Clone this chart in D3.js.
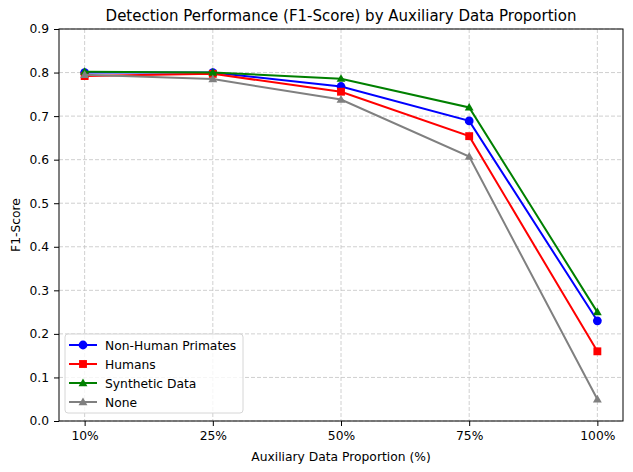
<!DOCTYPE html>
<html>
<head>
<meta charset="utf-8">
<script src="https://cdn.jsdelivr.net/npm/d3@7"></script>
<style>
  body { margin: 0; background: #fff; }
  text { font-family: "DejaVu Sans", sans-serif; fill: #000; }
</style>
</head>
<body>
<div id="chart-area"></div>
<script>
// chart data
const categories = ["10%", "25%", "50%", "75%", "100%"];
const nonHumanPrimates = [0.80, 0.80, 0.768, 0.689, 0.23];
const humans = [0.792, 0.797, 0.756, 0.654, 0.16];
const syntheticData = [0.802, 0.80, 0.786, 0.72, 0.25];
const noneAux = [0.795, 0.785, 0.738, 0.607, 0.05];
const yTicks = [0, 0.1, 0.2, 0.3, 0.4, 0.5, 0.6, 0.7, 0.8, 0.9];

const seriesList = [
  { name: "Non-Human Primates", values: nonHumanPrimates, color: "blue", marker: "circle" },
  { name: "Humans", values: humans, color: "red", marker: "square" },
  { name: "Synthetic Data", values: syntheticData, color: "green", marker: "triangle" },
  { name: "None", values: noneAux, color: "gray", marker: "triangle" }
];

const width = 633, height = 472;
const margin = { top: 29, right: 10, bottom: 51, left: 59 };
const innerW = width - margin.left - margin.right;
const innerH = height - margin.top - margin.bottom;
const fontSize = "12.3px";

const svg = d3.select("#chart-area").append("svg")
  .attr("width", width)
  .attr("height", height);

const g = svg.append("g")
  .attr("transform", `translate(${margin.left},${margin.top})`);

// categorical x with matplotlib-like 5% margins
const x = d3.scaleLinear()
  .domain([-0.2, categories.length - 1 + 0.2])
  .range([0, innerW]);
const y = d3.scaleLinear().domain([0, 0.9]).range([innerH, 0]);

// grid
g.append("g").selectAll("line")
  .data(yTicks)
  .enter().append("line")
  .attr("x1", 0).attr("x2", innerW)
  .attr("y1", d => y(d)).attr("y2", d => y(d))
  .attr("stroke", "#c4c4c4").attr("stroke-width", 0.8)
  .attr("stroke-dasharray", "4,2");
g.append("g").selectAll("line")
  .data(categories)
  .enter().append("line")
  .attr("x1", (d, i) => x(i)).attr("x2", (d, i) => x(i))
  .attr("y1", 0).attr("y2", innerH)
  .attr("stroke", "#c4c4c4").attr("stroke-width", 0.8)
  .attr("stroke-dasharray", "4,2");

// axes
const xAxis = d3.axisBottom(x)
  .tickValues(d3.range(categories.length))
  .tickFormat(i => categories[i])
  .tickSizeInner(5).tickSizeOuter(0).tickPadding(5);
const yAxis = d3.axisLeft(y)
  .tickValues(yTicks)
  .tickFormat(d3.format(".1f"))
  .tickSizeInner(5).tickSizeOuter(0).tickPadding(5);

g.append("g").attr("transform", `translate(0,${innerH})`).call(xAxis)
  .call(a => a.select(".domain").remove())
  .selectAll("text").style("font-size", fontSize).style("font-family", "DejaVu Sans");
g.append("g").call(yAxis)
  .call(a => a.select(".domain").remove())
  .selectAll("text").style("font-size", fontSize).style("font-family", "DejaVu Sans");

// frame
g.append("rect")
  .attr("width", innerW).attr("height", innerH)
  .attr("fill", "none").attr("stroke", "#000").attr("stroke-width", 1);

const line = d3.line()
  .x((d, i) => x(i))
  .y(d => y(d));

const triangle = d3.symbol().type(d3.symbolTriangle).size(34);
const square = d3.symbol().type(d3.symbolSquare).size(62);

function drawMarker(sel, s) {
  if (s.marker === "circle") {
    sel.append("circle").attr("r", 4.4).attr("fill", s.color);
  } else if (s.marker === "square") {
    sel.append("path").attr("d", square()).attr("fill", s.color);
  } else {
    sel.append("path").attr("d", triangle()).attr("fill", s.color)
      .attr("transform", "translate(0,0.6)");
  }
}

seriesList.forEach(s => {
  g.append("path")
    .datum(s.values)
    .attr("fill", "none")
    .attr("stroke", s.color)
    .attr("stroke-width", 2)
    .attr("d", line);
  s.values.forEach((v, i) => {
    const m = g.append("g").attr("transform", `translate(${x(i)},${y(v)})`);
    drawMarker(m, s);
  });
});

// title and axis labels
svg.append("text")
  .attr("x", margin.left + innerW / 2).attr("y", 21)
  .attr("text-anchor", "middle")
  .style("font-size", "15px")
  .text("Detection Performance (F1-Score) by Auxiliary Data Proportion");
svg.append("text")
  .attr("x", margin.left + innerW / 2).attr("y", 461)
  .attr("text-anchor", "middle")
  .style("font-size", fontSize)
  .text("Auxiliary Data Proportion (%)");
svg.append("text")
  .attr("transform", `translate(20,${margin.top + innerH / 2}) rotate(-90)`)
  .attr("text-anchor", "middle")
  .style("font-size", fontSize)
  .text("F1-Score");

// legend
const legend = g.append("g").attr("transform", "translate(6,305)");
legend.append("rect")
  .attr("width", 178).attr("height", 79).attr("rx", 3)
  .attr("fill", "#fff").attr("fill-opacity", 0.8)
  .attr("stroke", "#d6d6d6");
seriesList.forEach((s, i) => {
  const row = legend.append("g").attr("transform", `translate(0,${11 + i * 19})`);
  row.append("line")
    .attr("x1", 4).attr("x2", 32)
    .attr("stroke", s.color).attr("stroke-width", 2);
  const m = row.append("g").attr("transform", "translate(18,0)");
  drawMarker(m, s);
  row.append("text")
    .attr("x", 40).attr("y", 4.5)
    .style("font-size", fontSize)
    .text(s.name);
});
</script>
</body>
</html>
